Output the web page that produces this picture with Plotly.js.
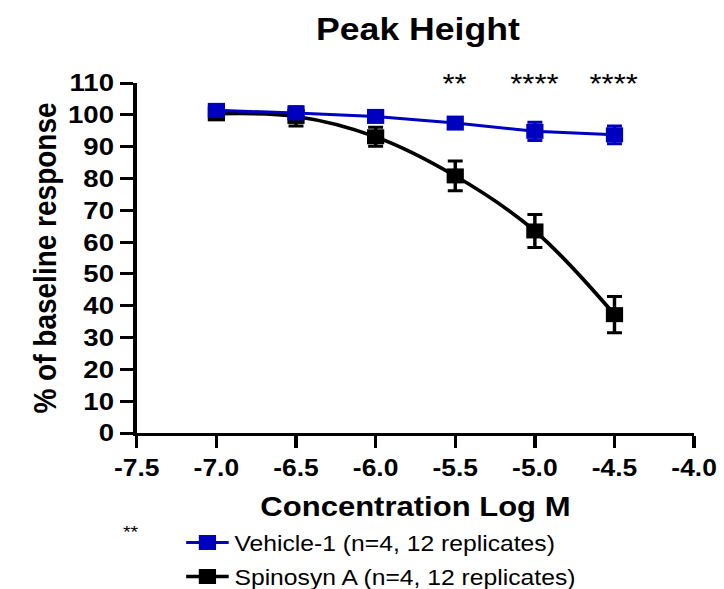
<!DOCTYPE html>
<html>
<head>
<meta charset="utf-8">
<script src="https://cdn.plot.ly/plotly-3.0.1.min.js"></script>
<style>
  html, body { margin: 0; padding: 0; background: #fff; overflow: hidden; }
  #wrap { width: 630px; height: 589px; transform: scaleX(1.1492); transform-origin: 0 0; }
  #chart { width: 630px; height: 589px; }
</style>
</head>
<body>
<div id="wrap"><div id="chart"></div></div>
<script>
// ---- data ----
const concentrations = [-7.0, -6.5, -6.0, -5.5, -5.0, -4.5];
const vehicleMean = [101.4, 100.6, 99.5, 97.4, 94.8, 93.7];
const vehicleErr  = [1.0, 1.5, 1.5, 1.2, 2.9, 2.8];
const spinosynMean = [100.3, 99.5, 93.1, 80.8, 63.5, 37.2];
const spinosynErr  = [1.0, 3.0, 3.0, 4.7, 5.2, 5.7];
const xTickVals = [-7.5, -7.0, -6.5, -6.0, -5.5, -5.0, -4.5, -4.0];
const xTickLabels = ['-7.5', '-7.0', '-6.5', '-6.0', '-5.5', '-5.0', '-4.5', '-4.0'];
const yTickVals = [0, 10, 20, 30, 40, 50, 60, 70, 80, 90, 100, 110];
const sigX = [-5.5, -5.0, -4.5];
const sigLabels = ['**', '****', '****'];
const seriesNames = ['Vehicle-1 (n=4, 12 replicates)', 'Spinosyn A (n=4, 12 replicates)'];

const FONT = 'Liberation Sans, Arial, Helvetica, sans-serif';
const BLUE = '#0000C0';

const spinosyn = {
  x: concentrations, y: spinosynMean, name: seriesNames[1],
  type: 'scatter', mode: 'lines+markers',
  line: { color: '#000', width: 3.5, shape: 'spline' },
  marker: { symbol: 'square', size: 15, color: '#000' },
  error_y: { type: 'data', array: spinosynErr, visible: true, color: '#000', thickness: 3, width: 6.5 },
  legendgroup: 'b', legendrank: 2, cliponaxis: false
};
const vehicle = {
  x: concentrations, y: vehicleMean, name: seriesNames[0],
  type: 'scatter', mode: 'lines+markers',
  line: { color: BLUE, width: 3 },
  marker: { symbol: 'square', size: 15, color: BLUE },
  error_y: { type: 'data', array: vehicleErr, visible: true, color: BLUE, thickness: 3, width: 6.5 },
  legendgroup: 'a', legendrank: 1, cliponaxis: false
};

const annotations = sigX.map((x, i) => ({
  x: x, y: 109.6, xref: 'x', yref: 'y', text: sigLabels[i], showarrow: false,
  xanchor: 'center', yanchor: 'middle', font: { family: FONT, size: 27, color: '#000' }
}));
annotations.push({
  x: -0.0103, y: -0.284, xref: 'paper', yref: 'paper', text: '**', showarrow: false,
  xanchor: 'center', yanchor: 'middle', font: { family: FONT, size: 17, color: '#000' }
});

const axisCommon = {
  showline: true, linewidth: 3, linecolor: '#000', mirror: false,
  ticks: 'outside', ticklen: 12, tickwidth: 3, tickcolor: '#000',
  showgrid: false, zeroline: false, automargin: false,
  tickfont: { family: FONT, size: 23, color: '#000', weight: 'bold' }
};

const layout = {
  width: 630, height: 589,
  margin: { l: 119, r: 26, t: 83, b: 156 },
  paper_bgcolor: '#fff', plot_bgcolor: '#fff',
  title: {
    text: 'Peak Height', x: 363.7 / 630, xanchor: 'center', xref: 'container',
    y: 1 - 29 / 589, yanchor: 'middle', yref: 'container',
    font: { family: FONT, size: 31, color: '#000', weight: 'bold' }
  },
  xaxis: Object.assign({}, axisCommon, {
    range: [-7.5, -4.0], tickmode: 'array', tickvals: xTickVals, ticktext: xTickLabels,
    title: { text: 'Concentration Log M', standoff: 19,
      font: { family: FONT, size: 27, color: '#000', weight: 'bold' } }
  }),
  yaxis: Object.assign({}, axisCommon, {
    range: [0, 110], tickmode: 'array', tickvals: yTickVals,
    tickfont: { family: FONT, size: 24, color: '#000', weight: 'bold' },
    title: { text: '% of baseline response', standoff: 2,
      font: { family: FONT, size: 28, color: '#000', weight: 'bold' } }
  }),
  showlegend: true,
  legend: {
    x: (157 - 119) / 485, xanchor: 'left', y: 1 - 522 / 589, yanchor: 'top', yref: 'container',
    traceorder: 'grouped', tracegroupgap: 3, itemwidth: 37, bgcolor: 'rgba(0,0,0,0)',
    font: { family: FONT, size: 21.5, color: '#000' }
  },
  annotations: annotations
};

Plotly.newPlot('chart', [spinosyn, vehicle], layout, { displayModeBar: false, staticPlot: true });
</script>
</body>
</html>
